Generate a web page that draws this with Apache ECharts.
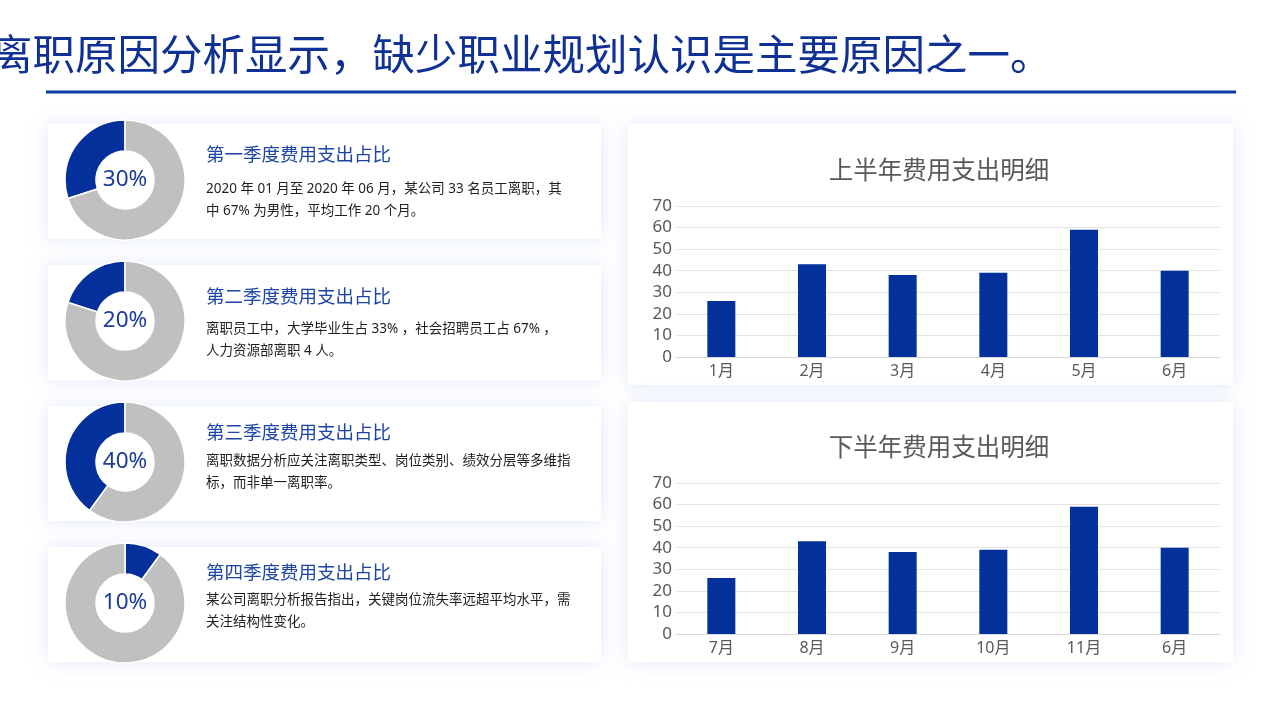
<!DOCTYPE html>
<html><head><meta charset="utf-8">
<script src="https://cdn.jsdelivr.net/npm/echarts@6/dist/echarts.min.js"></script>
<style>html,body{margin:0;padding:0;background:#fff;}#c{width:1280px;height:719px;}</style>
</head><body><div id="c"></div>
<script>
const pageTitle = '离职原因分析显示，缺少职业规划认识是主要原因之一。';
const quarterTitles = ['第一季度费用支出占比','第二季度费用支出占比','第三季度费用支出占比','第四季度费用支出占比'];
const quarterTexts = [
  '2020 年 01 月至 2020 年 06 月，某公司 33 名员工离职，其\n中 67% 为男性，平均工作 20 个月。',
  '离职员工中，大学毕业生占 33% ，社会招聘员工占 67% ，\n人力资源部离职 4 人。',
  '离职数据分析应关注离职类型、岗位类别、绩效分层等多维指\n标，而非单一离职率。',
  '某公司离职分析报告指出，关键岗位流失率远超平均水平，需\n关注结构性变化。'
];
const quarterPct = [30, 20, 40, 10];
const chart1Title = '上半年费用支出明细';
const chart1Cats = ['1月','2月','3月','4月','5月','6月'];
const chart1Vals = [26, 43, 38, 39, 59, 40];
const chart2Title = '下半年费用支出明细';
const chart2Cats = ['7月','8月','9月','10月','11月','6月'];
const chart2Vals = [26, 43, 38, 39, 59, 40];
const yTicks = [0, 70, 10];

const FONT = '"Noto Sans", "Noto Sans CJK SC", sans-serif';
const BLUE = '#03309a';
const GRAY = '#c0c0c0';

const cardTops = [124, 265, 406, 547];
const titleY = [156, 298, 434, 574];
const bodyY = [189, 329, 461, 600];

const graphics = [];
graphics.push({type:'text', x:-10, y:58, z:10, style:{text:pageTitle, font:'normal 42.5px ' + FONT, fill:'#0f3094', verticalAlign:'middle'}});
graphics.push({type:'rect', shape:{x:46, y:90.5, width:1190, height:3}, z:10, style:{fill:'#0b3aa0'}});
cardTops.forEach((t, i) => {
  graphics.push({type:'rect', shape:{x:48, y:t, width:553, height:115}, z:0,
    style:{fill:'#fff', shadowBlur:18, shadowColor:'rgba(170,190,235,0.35)'}});
  graphics.push({type:'text', x:206, y:titleY[i], z:10, style:{text:quarterTitles[i], font:'18.5px ' + FONT, fill:'#1c45a6', verticalAlign:'middle'}});
  graphics.push({type:'text', x:206, y:bodyY[i] - 11, z:10, style:{text:quarterTexts[i], font:'13.5px ' + FONT, fill:'#1e1e1e', lineHeight:22, verticalAlign:'top'}});
});
[[124, 261], [402, 260]].forEach(([t, h]) => {
  graphics.push({type:'rect', shape:{x:628, y:t, width:605, height:h}, z:0,
    style:{fill:'#fff', shadowBlur:18, shadowColor:'rgba(170,190,235,0.35)'}});
});

const pieCenters = [180, 321, 462, 603];
const pieSeries = quarterPct.map((p, i) => {
  const blue = {value:p, itemStyle:{color:BLUE}, label:{show:true, position:'center', formatter:'{c}%', fontSize:22.5, color:'#1a3a9c', fontFamily:FONT}};
  const gray = {value:100 - p, itemStyle:{color:GRAY}, label:{show:false}};
  return {
    type:'pie', center:[125, pieCenters[i]], radius:[29, 60], startAngle:90,
    clockwise: i === 3, silent:true, z:5,
    itemStyle:{borderColor:'#fff', borderWidth:1.5},
    labelLine:{show:false},
    data: [blue, gray]
  };
});

function barAxes(gi, cats) {
  return {
    x: {type:'category', gridIndex:gi, data:cats, axisTick:{show:false},
        axisLine:{lineStyle:{color:'#d9d9d9'}},
        axisLabel:{color:'#595959', fontSize:16, fontFamily:FONT, margin:6}},
    y: {type:'value', gridIndex:gi, min:yTicks[0], max:yTicks[1], interval:yTicks[2],
        axisLine:{show:false}, axisTick:{show:false},
        splitLine:{lineStyle:{color:'#e3e3e3'}},
        axisLabel:{color:'#595959', fontSize:17, fontFamily:FONT, margin:4}}
  };
}
const a1 = barAxes(0, chart1Cats), a2 = barAxes(1, chart2Cats);

const option = {
  backgroundColor:'#fff',
  animation:false,
  title:[
    {text:chart1Title, left:934, top:155, textAlign:'center', textStyle:{fontSize:24.5, fontWeight:'normal', color:'#595959', fontFamily:FONT}},
    {text:chart2Title, left:934, top:432, textAlign:'center', textStyle:{fontSize:24.5, fontWeight:'normal', color:'#595959', fontFamily:FONT}}
  ],
  grid:[
    {left:676, right:60, top:206, bottom:362},
    {left:676, right:60, top:483, bottom:85}
  ],
  xAxis:[a1.x, a2.x],
  yAxis:[a1.y, a2.y],
  series:[
    {type:'bar', xAxisIndex:0, yAxisIndex:0, data:chart1Vals, barWidth:28, itemStyle:{color:BLUE}, z:5},
    {type:'bar', xAxisIndex:1, yAxisIndex:1, data:chart2Vals, barWidth:28, itemStyle:{color:BLUE}, z:5}
  ].concat(pieSeries),
  graphic:graphics
};
const ch = echarts.init(document.getElementById('c'));
ch.setOption(option);
</script></body></html>
